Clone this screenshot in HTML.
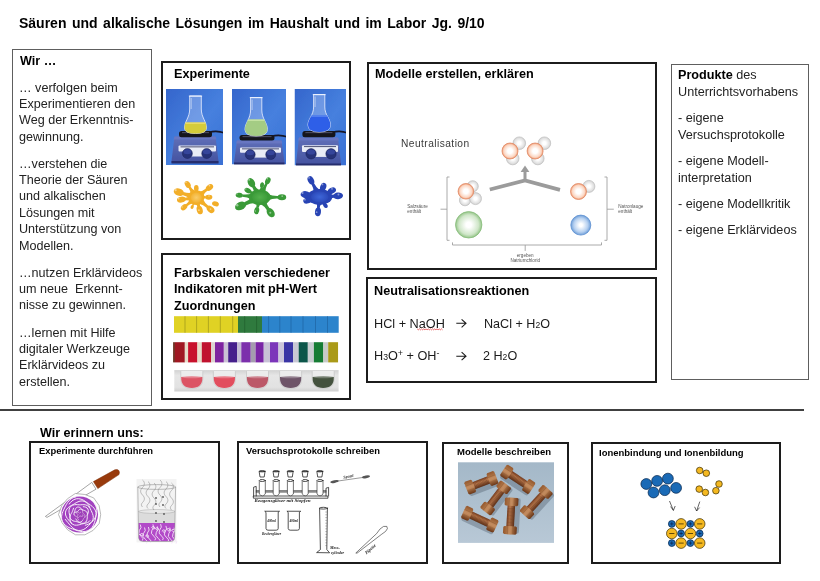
<!DOCTYPE html>
<html><head><meta charset="utf-8"><style>
html,body{margin:0;padding:0;background:#fff;}
body{width:820px;height:581px;position:relative;overflow:hidden;font-family:"Liberation Sans",sans-serif;}
.t{position:absolute;white-space:nowrap;will-change:transform;}
.box{position:absolute;box-sizing:border-box;}
.sub{font-size:0.68em;position:relative;top:0.4px;}
.sup{font-size:0.7em;position:relative;top:-3.6px;}
.sq{text-decoration:underline wavy #d02020;text-decoration-thickness:1px;text-underline-offset:2px;}
svg{position:absolute;left:0;top:0;will-change:transform;}
</style></head><body>
<div class="t" style="left:19.3px;top:15px;font-size:14px;line-height:16px;font-weight:bold;color:#000;word-spacing:1.6px;">Säuren und alkalische Lösungen im Haushalt und im Labor Jg. 9/10</div>
<div class="box" style="left:12px;top:49px;width:140px;height:357px;border:1px solid #5e5e5e;"></div>
<div class="t" style="left:19.5px;top:54px;font-size:12.6px;line-height:14px;font-weight:bold;color:#000;">Wir …</div>
<div class="t" style="left:19.4px;top:81px;font-size:12.6px;line-height:14px;color:#222;">… verfolgen beim</div>
<div class="t" style="left:19.4px;top:97px;font-size:12.6px;line-height:14px;color:#222;">Experimentieren den</div>
<div class="t" style="left:19.4px;top:113px;font-size:12.6px;line-height:14px;color:#222;">Weg der Erkenntnis-</div>
<div class="t" style="left:19.4px;top:130px;font-size:12.6px;line-height:14px;color:#222;">gewinnung.</div>
<div class="t" style="left:19.4px;top:157px;font-size:12.6px;line-height:14px;color:#222;">…verstehen die</div>
<div class="t" style="left:19.4px;top:173px;font-size:12.6px;line-height:14px;color:#222;">Theorie der Säuren</div>
<div class="t" style="left:19.4px;top:189px;font-size:12.6px;line-height:14px;color:#222;">und alkalischen</div>
<div class="t" style="left:19.4px;top:206px;font-size:12.6px;line-height:14px;color:#222;">Lösungen mit</div>
<div class="t" style="left:19.4px;top:222px;font-size:12.6px;line-height:14px;color:#222;">Unterstützung von</div>
<div class="t" style="left:19.4px;top:239px;font-size:12.6px;line-height:14px;color:#222;">Modellen.</div>
<div class="t" style="left:19.4px;top:266px;font-size:12.6px;line-height:14px;color:#222;">…nutzen Erklärvideos</div>
<div class="t" style="left:19.4px;top:282px;font-size:12.6px;line-height:14px;color:#222;">um neue&nbsp; Erkennt-</div>
<div class="t" style="left:19.4px;top:298px;font-size:12.6px;line-height:14px;color:#222;">nisse zu gewinnen.</div>
<div class="t" style="left:19.4px;top:326px;font-size:12.6px;line-height:14px;color:#222;">…lernen mit Hilfe</div>
<div class="t" style="left:19.4px;top:342px;font-size:12.6px;line-height:14px;color:#222;">digitaler Werkzeuge</div>
<div class="t" style="left:19.4px;top:358px;font-size:12.6px;line-height:14px;color:#222;">Erklärvideos zu</div>
<div class="t" style="left:19.4px;top:375px;font-size:12.6px;line-height:14px;color:#222;">erstellen.</div>
<div class="box" style="left:161px;top:61px;width:190px;height:179px;border:2px solid #1c1c1c;"></div>
<div class="t" style="left:174.3px;top:67px;font-size:12.65px;line-height:14px;font-weight:bold;color:#000;">Experimente</div>
<svg width="820" height="581" viewBox="0 0 820 581"><defs><linearGradient id="bg1" x1="0" y1="0" x2="1" y2="1"><stop offset="0" stop-color="#3566cc"/><stop offset="0.55" stop-color="#4680de"/><stop offset="1" stop-color="#3a70d4"/></linearGradient><linearGradient id="hp1" x1="0" y1="0" x2="0" y2="1"><stop offset="0" stop-color="#6070b8"/><stop offset="1" stop-color="#4452a0"/></linearGradient><clipPath id="cp1"><rect x="166" y="89" width="57" height="76"/></clipPath></defs><filter id="pb1" x="-5%" y="-5%" width="110%" height="110%"><feGaussianBlur stdDeviation="0.35"/></filter><g clip-path="url(#cp1)"><g filter="url(#pb1)"><rect x="166" y="89" width="57" height="76" fill="url(#bg1)"/><path d="M209,132.5 Q216,130 225,133" stroke="#151525" stroke-width="1.6" fill="none"/><path d="M174.5,136.5 L215.5,136.5 L218.5,161 L218.5,163 L171.5,163 L171.5,161 Z" fill="url(#hp1)"/><rect x="171.5" y="161" width="47.0" height="2.5" fill="#262e6e"/><path d="M174.5,136.5 L215.5,136.5 L216.5,139.5 L173.5,139.5 Z" fill="#6a78c4" opacity="0.8"/><rect x="178.5" y="145.5" width="37.5" height="6.0" rx="1" fill="#e8ecf6"/><path d="M187.4,153.5 L206.7,153.5" stroke="#e8ecf6" stroke-width="6.0"/><rect x="180.5" y="146.3" width="33.5" height="1.1" fill="#5a5f80"/><circle cx="187.4" cy="153.5" r="5" fill="#263278" stroke="#1a2258" stroke-width="0.5"/><ellipse cx="187.4" cy="151.75" rx="3.9000000000000004" ry="2.5" fill="#34449a"/><circle cx="206.7" cy="153.5" r="5" fill="#263278" stroke="#1a2258" stroke-width="0.5"/><ellipse cx="206.7" cy="151.75" rx="3.9000000000000004" ry="2.5" fill="#34449a"/><rect x="179" y="131" width="33" height="6.300000000000011" rx="2.5" fill="#15151f"/><rect x="182" y="132" width="27" height="1.2" fill="#4a4a5a"/><path d="M189.7,96 L189.7,109 C189.7,117.55 184.5,121.35 184.5,128 Q184.5,133.5 195.5,133.5 Q206.5,133.5 206.5,128 C206.5,121.35 201.3,117.55 201.3,109 L201.3,96 Z" fill="rgba(215,228,255,0.30)" stroke="rgba(235,240,255,0.9)" stroke-width="0.9"/><clipPath id="fl1"><path d="M189.7,96 L189.7,109 C189.7,117.55 184.5,121.35 184.5,128 Q184.5,133.5 195.5,133.5 Q206.5,133.5 206.5,128 C206.5,121.35 201.3,117.55 201.3,109 L201.3,96 Z"/></clipPath><rect clip-path="url(#fl1)" x="182.5" y="122.5" width="26" height="12.0" fill="#d4cc3a"/><rect clip-path="url(#fl1)" x="182.5" y="122.5" width="26" height="1.3" fill="#eee070"/><rect x="188.89999999999998" y="95.5" width="13.2" height="1.2" fill="rgba(240,245,255,0.85)"/><line x1="191.2" y1="98" x2="191.2" y2="109" stroke="rgba(255,255,255,0.6)" stroke-width="0.8"/></g></g><defs><linearGradient id="bg2" x1="0" y1="0" x2="1" y2="1"><stop offset="0" stop-color="#3566cc"/><stop offset="0.55" stop-color="#4680de"/><stop offset="1" stop-color="#3a70d4"/></linearGradient><linearGradient id="hp2" x1="0" y1="0" x2="0" y2="1"><stop offset="0" stop-color="#6070b8"/><stop offset="1" stop-color="#4452a0"/></linearGradient><clipPath id="cp2"><rect x="232" y="89" width="54" height="75.5"/></clipPath></defs><filter id="pb2" x="-5%" y="-5%" width="110%" height="110%"><feGaussianBlur stdDeviation="0.35"/></filter><g clip-path="url(#cp2)"><g filter="url(#pb2)"><rect x="232" y="89" width="54" height="75.5" fill="url(#bg2)"/><path d="M271.5,136.5 Q278.5,134 288,137" stroke="#151525" stroke-width="1.6" fill="none"/><path d="M237,140.5 L281.5,140.5 L284.5,162.5 L284.5,164.5 L234,164.5 L234,162.5 Z" fill="url(#hp2)"/><rect x="234" y="162.5" width="50.5" height="2.5" fill="#262e6e"/><path d="M237,140.5 L281.5,140.5 L282.5,143.5 L236,143.5 Z" fill="#6a78c4" opacity="0.8"/><rect x="240" y="147.5" width="41" height="5.300000000000011" rx="1" fill="#e8ecf6"/><path d="M250.2,154.6 L270.7,154.6" stroke="#e8ecf6" stroke-width="6.0"/><rect x="242" y="148.3" width="37" height="1.1" fill="#5a5f80"/><circle cx="250.2" cy="154.6" r="5" fill="#263278" stroke="#1a2258" stroke-width="0.5"/><ellipse cx="250.2" cy="152.85" rx="3.9000000000000004" ry="2.5" fill="#34449a"/><circle cx="270.7" cy="154.6" r="5" fill="#263278" stroke="#1a2258" stroke-width="0.5"/><ellipse cx="270.7" cy="152.85" rx="3.9000000000000004" ry="2.5" fill="#34449a"/><rect x="239.5" y="135" width="35.0" height="5.599999999999994" rx="2.5" fill="#15151f"/><rect x="242.5" y="136" width="29.0" height="1.2" fill="#4a4a5a"/><path d="M250.6,97.5 L250.6,110 C250.6,118.775 245.0,122.675 245.0,129.5 Q245.0,136 256.2,136 Q267.4,136 267.4,129.5 C267.4,122.675 261.8,118.775 261.8,110 L261.8,97.5 Z" fill="rgba(215,228,255,0.30)" stroke="rgba(235,240,255,0.9)" stroke-width="0.9"/><clipPath id="fl2"><path d="M250.6,97.5 L250.6,110 C250.6,118.775 245.0,122.675 245.0,129.5 Q245.0,136 256.2,136 Q267.4,136 267.4,129.5 C267.4,122.675 261.8,118.775 261.8,110 L261.8,97.5 Z"/></clipPath><rect clip-path="url(#fl2)" x="243.0" y="119.5" width="26.4" height="17.5" fill="#a4cc84"/><rect clip-path="url(#fl2)" x="243.0" y="119.5" width="26.4" height="1.3" fill="#cce8a8"/><rect x="249.79999999999998" y="97.0" width="12.799999999999999" height="1.2" fill="rgba(240,245,255,0.85)"/><line x1="252.1" y1="99.5" x2="252.1" y2="110" stroke="rgba(255,255,255,0.6)" stroke-width="0.8"/></g></g><defs><linearGradient id="bg3" x1="0" y1="0" x2="1" y2="1"><stop offset="0" stop-color="#3566cc"/><stop offset="0.55" stop-color="#4680de"/><stop offset="1" stop-color="#3a70d4"/></linearGradient><linearGradient id="hp3" x1="0" y1="0" x2="0" y2="1"><stop offset="0" stop-color="#6070b8"/><stop offset="1" stop-color="#4452a0"/></linearGradient><clipPath id="cp3"><rect x="294.5" y="89" width="51.5" height="76.5"/></clipPath></defs><filter id="pb3" x="-5%" y="-5%" width="110%" height="110%"><feGaussianBlur stdDeviation="0.35"/></filter><g clip-path="url(#cp3)"><g filter="url(#pb3)"><rect x="294.5" y="89" width="51.5" height="76.5" fill="url(#bg3)"/><path d="M332.4,132.5 Q339.4,130 348.0,133" stroke="#151525" stroke-width="1.6" fill="none"/><path d="M299,137.5 L338,137.5 L341,163.5 L341,165.5 L296,165.5 L296,163.5 Z" fill="url(#hp3)"/><rect x="296" y="163.5" width="45" height="2.5" fill="#262e6e"/><path d="M299,137.5 L338,137.5 L339,140.5 L298,140.5 Z" fill="#6a78c4" opacity="0.8"/><rect x="302" y="145.2" width="36" height="6.800000000000011" rx="1" fill="#e8ecf6"/><path d="M311.1,153.8 L331,153.8" stroke="#e8ecf6" stroke-width="6.24"/><rect x="304" y="146.0" width="32" height="1.1" fill="#5a5f80"/><circle cx="311.1" cy="153.8" r="5.2" fill="#263278" stroke="#1a2258" stroke-width="0.5"/><ellipse cx="311.1" cy="151.98000000000002" rx="4.056" ry="2.6" fill="#34449a"/><circle cx="331" cy="153.8" r="5.2" fill="#263278" stroke="#1a2258" stroke-width="0.5"/><ellipse cx="331" cy="151.98000000000002" rx="4.056" ry="2.6" fill="#34449a"/><rect x="302.4" y="131" width="33.0" height="6.199999999999989" rx="2.5" fill="#15151f"/><rect x="305.4" y="132" width="27.0" height="1.2" fill="#4a4a5a"/><path d="M313.59999999999997,94.5 L313.59999999999997,107 C313.59999999999997,115.1 308.0,118.7 308.0,125 Q308.0,132 319.2,132 Q330.4,132 330.4,125 C330.4,118.7 324.8,115.1 324.8,107 L324.8,94.5 Z" fill="rgba(215,228,255,0.30)" stroke="rgba(235,240,255,0.9)" stroke-width="0.9"/><clipPath id="fl3"><path d="M313.59999999999997,94.5 L313.59999999999997,107 C313.59999999999997,115.1 308.0,118.7 308.0,125 Q308.0,132 319.2,132 Q330.4,132 330.4,125 C330.4,118.7 324.8,115.1 324.8,107 L324.8,94.5 Z"/></clipPath><rect clip-path="url(#fl3)" x="306.0" y="115.5" width="26.4" height="17.5" fill="#2e5ee8"/><rect clip-path="url(#fl3)" x="306.0" y="115.5" width="26.4" height="1.3" fill="#5a88f0"/><rect x="312.79999999999995" y="94.0" width="12.799999999999999" height="1.2" fill="rgba(240,245,255,0.85)"/><line x1="315.09999999999997" y1="96.5" x2="315.09999999999997" y2="107" stroke="rgba(255,255,255,0.6)" stroke-width="0.8"/></g></g><defs><radialGradient id="sg1" cx="0.5" cy="0.5" r="0.6"><stop offset="0" stop-color="#f9cc6a"/><stop offset="1" stop-color="#f2ae28"/></radialGradient></defs><g fill="#f2ae28"><ellipse cx="187.71" cy="184.49" rx="3.77" ry="2.60" transform="rotate(-123.2 187.71 184.49)"/><path d="M196.03,191.45 Q192.19,189.62 190.40,186.46 L188.44,187.74 Q190.63,190.65 190.77,194.89 Z"/><ellipse cx="196.30" cy="188.35" rx="3.33" ry="2.30" transform="rotate(-90.0 196.30 188.35)"/><path d="M199.17,192.42 Q197.13,191.76 197.34,191.11 L195.27,191.11 Q195.47,191.76 193.43,192.42 Z"/><ellipse cx="209.49" cy="187.55" rx="4.06" ry="2.80" transform="rotate(-37.3 209.49 187.55)"/><path d="M202.56,196.85 Q204.33,192.75 207.58,190.59 L206.05,188.58 Q203.11,191.14 198.68,191.76 Z"/><ellipse cx="178.82" cy="192.14" rx="5.22" ry="3.60" transform="rotate(-162.6 178.82 192.14)"/><path d="M191.95,192.89 Q187.35,193.45 183.42,191.88 L182.46,194.97 Q186.58,195.92 190.04,199.00 Z"/><ellipse cx="181.29" cy="199.60" rx="4.35" ry="3.00" transform="rotate(172.4 181.29 199.60)"/><path d="M190.33,195.17 Q187.66,197.66 184.68,197.79 L185.03,200.46 Q187.95,199.80 191.18,201.51 Z"/><ellipse cx="208.75" cy="197.15" rx="3.62" ry="2.50" transform="rotate(-2.1 208.75 197.15)"/><path d="M202.01,200.44 Q203.86,198.22 205.79,198.38 L205.71,196.13 Q203.79,196.43 201.78,194.35 Z"/><ellipse cx="215.46" cy="203.83" rx="3.48" ry="2.40" transform="rotate(18.0 215.46 203.83)"/><ellipse cx="184.08" cy="207.23" rx="3.62" ry="2.50" transform="rotate(141.8 184.08 207.23)"/><path d="M190.15,198.56 Q188.68,202.46 185.74,204.49 L187.13,206.25 Q189.79,203.87 193.92,203.35 Z"/><ellipse cx="199.70" cy="209.95" rx="4.35" ry="3.00" transform="rotate(74.6 199.70 209.95)"/><path d="M194.60,203.47 Q197.17,204.84 197.44,206.84 L200.05,206.12 Q199.26,204.26 200.77,201.77 Z"/><ellipse cx="210.54" cy="209.35" rx="4.35" ry="3.00" transform="rotate(39.5 210.54 209.35)"/><path d="M198.44,203.52 Q203.44,204.88 206.91,208.10 L208.62,206.01 Q204.81,203.22 202.52,198.58 Z"/><ellipse cx="192.20" cy="206.81" rx="2.17" ry="1.50" transform="rotate(114.0 192.20 206.81)"/><path d="M192.21,201.52 Q193.06,203.56 192.32,204.90 L193.55,205.44 Q194.05,204.00 196.14,203.26 Z"/><ellipse cx="196.3" cy="197.6" rx="8" ry="7.4"/></g><ellipse cx="196.3" cy="197.6" rx="5.6" ry="5.18" fill="url(#sg1)"/><circle cx="185.96" cy="182.36" r="0.78" fill="#ffffff" opacity="0.45"/><circle cx="209.48" cy="185.58" r="0.84" fill="#ffffff" opacity="0.45"/><circle cx="175.66" cy="190.16" r="1.08" fill="#ffffff" opacity="0.45"/><circle cx="178.60" cy="198.60" r="0.90" fill="#ffffff" opacity="0.45"/><circle cx="209.00" cy="196.10" r="0.75" fill="#ffffff" opacity="0.45"/><circle cx="182.10" cy="207.00" r="0.75" fill="#ffffff" opacity="0.45"/><circle cx="198.90" cy="210.20" r="0.90" fill="#ffffff" opacity="0.45"/><circle cx="210.50" cy="209.10" r="0.90" fill="#ffffff" opacity="0.45"/><defs><radialGradient id="sg2" cx="0.5" cy="0.5" r="0.6"><stop offset="0" stop-color="#52b04c"/><stop offset="1" stop-color="#3a9a38"/></radialGradient></defs><g fill="#3a9a38"><ellipse cx="251.35" cy="182.67" rx="4.93" ry="3.40" transform="rotate(-120.2 251.35 182.67)"/><path d="M259.63,190.54 Q256.19,188.56 254.73,185.43 L252.08,186.97 Q254.08,189.79 254.10,193.76 Z"/><ellipse cx="262.02" cy="185.08" rx="2.90" ry="2.00" transform="rotate(-79.6 262.02 185.08)"/><path d="M263.35,192.25 Q261.90,189.74 262.47,187.61 L260.70,187.28 Q260.48,189.49 258.23,191.32 Z"/><ellipse cx="267.85" cy="180.82" rx="3.62" ry="2.50" transform="rotate(-63.8 267.85 180.82)"/><path d="M265.07,193.39 Q265.24,188.18 267.54,184.01 L265.52,183.02 Q263.62,187.38 259.60,190.70 Z"/><ellipse cx="239.24" cy="195.22" rx="3.62" ry="2.50" transform="rotate(-174.5 239.24 195.22)"/><path d="M252.46,193.43 Q247.29,195.09 242.34,194.39 L242.12,196.63 Q247.11,196.88 251.88,199.50 Z"/><ellipse cx="240.62" cy="205.97" rx="5.80" ry="4.00" transform="rotate(155.4 240.62 205.97)"/><path d="M252.00,197.25 Q248.56,200.76 244.24,202.34 L245.73,205.61 Q249.76,203.38 254.66,203.07 Z"/><ellipse cx="281.90" cy="197.29" rx="4.35" ry="3.00" transform="rotate(0.2 281.90 197.29)"/><path d="M267.49,200.43 Q272.90,198.34 278.29,198.63 L278.31,195.93 Q272.90,196.18 267.51,194.03 Z"/><ellipse cx="256.68" cy="210.68" rx="3.62" ry="2.50" transform="rotate(103.0 256.68 210.68)"/><path d="M255.58,201.90 Q257.08,204.97 256.26,207.51 L258.45,208.01 Q258.83,205.38 261.53,203.28 Z"/><ellipse cx="270.69" cy="212.67" rx="5.08" ry="3.50" transform="rotate(54.8 270.69 212.67)"/><path d="M260.62,203.93 Q264.73,206.39 266.99,210.14 L269.56,208.33 Q266.79,204.93 265.86,200.24 Z"/><ellipse cx="247.89" cy="190.61" rx="3.62" ry="2.50" transform="rotate(-151.0 247.89 190.61)"/><path d="M255.21,191.17 Q252.56,192.16 251.06,191.07 L249.97,193.04 Q251.69,193.74 252.25,196.51 Z"/><ellipse cx="259.8" cy="197.2" rx="11" ry="7.8"/></g><ellipse cx="259.8" cy="197.2" rx="7.699999999999999" ry="5.46" fill="url(#sg2)"/><circle cx="249.14" cy="179.84" r="1.02" fill="#ffffff" opacity="0.45"/><circle cx="267.40" cy="178.70" r="0.75" fill="#ffffff" opacity="0.45"/><circle cx="237.00" cy="194.10" r="0.75" fill="#ffffff" opacity="0.45"/><circle cx="237.20" cy="205.20" r="1.20" fill="#ffffff" opacity="0.45"/><circle cx="282.20" cy="196.10" r="0.90" fill="#ffffff" opacity="0.45"/><circle cx="255.40" cy="210.90" r="0.75" fill="#ffffff" opacity="0.45"/><circle cx="270.30" cy="212.70" r="1.05" fill="#ffffff" opacity="0.45"/><circle cx="245.80" cy="189.00" r="0.75" fill="#ffffff" opacity="0.45"/><defs><radialGradient id="sg3" cx="0.5" cy="0.5" r="0.6"><stop offset="0" stop-color="#3e66d8"/><stop offset="1" stop-color="#2844b4"/></radialGradient></defs><g fill="#2844b4"><ellipse cx="310.90" cy="180.32" rx="4.35" ry="3.00" transform="rotate(-118.0 310.90 180.32)"/><path d="M319.71,190.10 Q315.69,187.04 313.78,182.87 L311.40,184.14 Q313.78,188.06 314.06,193.10 Z"/><ellipse cx="323.20" cy="187.01" rx="4.35" ry="3.00" transform="rotate(-70.5 323.20 187.01)"/><path d="M324.65,192.51 Q322.83,191.28 323.27,190.86 L320.73,189.96 Q320.80,190.56 318.62,190.37 Z"/><ellipse cx="331.86" cy="190.68" rx="4.35" ry="3.00" transform="rotate(-27.1 331.86 190.68)"/><path d="M327.99,196.25 Q328.09,193.82 329.27,193.52 L328.04,191.12 Q327.11,191.90 325.08,190.56 Z"/><ellipse cx="338.10" cy="195.89" rx="4.93" ry="3.40" transform="rotate(-3.1 338.10 195.89)"/><path d="M328.59,199.62 Q331.29,197.49 334.11,197.64 L333.95,194.59 Q331.16,195.05 328.24,193.23 Z"/><ellipse cx="305.63" cy="194.67" rx="5.08" ry="3.50" transform="rotate(-171.0 305.63 194.67)"/><path d="M311.71,192.40 Q310.69,194.20 310.02,193.77 L309.53,196.89 Q310.29,196.69 310.71,198.72 Z"/><ellipse cx="307.54" cy="200.48" rx="4.35" ry="3.00" transform="rotate(163.6 307.54 200.48)"/><path d="M310.85,196.17 Q311.07,198.31 310.61,198.17 L311.37,200.76 Q311.68,200.39 312.65,202.31 Z"/><ellipse cx="317.97" cy="211.91" rx="4.35" ry="3.00" transform="rotate(96.6 317.97 211.91)"/><path d="M315.88,202.12 Q317.65,205.29 317.04,208.18 L319.72,208.49 Q319.79,205.53 322.24,202.85 Z"/><ellipse cx="325.34" cy="205.27" rx="2.90" ry="2.00" transform="rotate(56.0 325.34 205.27)"/><path d="M321.01,203.50 Q322.99,203.06 323.25,203.78 L324.75,202.78 Q324.18,202.26 325.32,200.59 Z"/><ellipse cx="319.7" cy="196.9" rx="12.5" ry="8"/></g><ellipse cx="319.7" cy="196.9" rx="8.75" ry="5.6" fill="url(#sg3)"/><circle cx="309.00" cy="177.80" r="0.90" fill="#ffffff" opacity="0.45"/><circle cx="322.50" cy="184.40" r="0.90" fill="#ffffff" opacity="0.45"/><circle cx="332.00" cy="188.80" r="0.90" fill="#ffffff" opacity="0.45"/><circle cx="338.44" cy="194.44" r="1.02" fill="#ffffff" opacity="0.45"/><circle cx="302.50" cy="193.00" r="1.05" fill="#ffffff" opacity="0.45"/><circle cx="304.90" cy="199.70" r="0.90" fill="#ffffff" opacity="0.45"/><circle cx="316.60" cy="212.20" r="0.90" fill="#ffffff" opacity="0.45"/></svg>
<div class="box" style="left:161px;top:253px;width:190px;height:147px;border:2px solid #1c1c1c;"></div>
<div class="t" style="left:174.3px;top:266px;font-size:12.65px;line-height:14px;font-weight:bold;color:#000;">Farbskalen verschiedener</div>
<div class="t" style="left:174.3px;top:282px;font-size:12.65px;line-height:14px;font-weight:bold;color:#000;">Indikatoren mit pH-Wert</div>
<div class="t" style="left:174.3px;top:299px;font-size:12.65px;line-height:14px;font-weight:bold;color:#000;">Zuordnungen</div>
<svg width="820" height="581" viewBox="0 0 820 581"><rect x="174" y="316.2" width="64" height="16.600000000000023" fill="#e0d224"/><rect x="238" y="316.2" width="24" height="16.600000000000023" fill="#2f7a3e"/><rect x="262" y="316.2" width="76.7" height="16.600000000000023" fill="#2c84cc"/><line x1="185" y1="316.2" x2="185" y2="332.8" stroke="#8f8a1a" stroke-width="0.6"/><line x1="196.6" y1="316.2" x2="196.6" y2="332.8" stroke="#8f8a1a" stroke-width="0.6"/><line x1="208.4" y1="316.2" x2="208.4" y2="332.8" stroke="#8f8a1a" stroke-width="0.6"/><line x1="220.3" y1="316.2" x2="220.3" y2="332.8" stroke="#8f8a1a" stroke-width="0.6"/><line x1="232.7" y1="316.2" x2="232.7" y2="332.8" stroke="#8f8a1a" stroke-width="0.6"/><line x1="244.7" y1="316.2" x2="244.7" y2="332.8" stroke="#1f5a2a" stroke-width="0.6"/><line x1="256.6" y1="316.2" x2="256.6" y2="332.8" stroke="#1f5a2a" stroke-width="0.6"/><line x1="268.6" y1="316.2" x2="268.6" y2="332.8" stroke="#1d5e9a" stroke-width="0.6"/><line x1="279.8" y1="316.2" x2="279.8" y2="332.8" stroke="#1d5e9a" stroke-width="0.6"/><line x1="291" y1="316.2" x2="291" y2="332.8" stroke="#1d5e9a" stroke-width="0.6"/><line x1="303" y1="316.2" x2="303" y2="332.8" stroke="#1d5e9a" stroke-width="0.6"/><line x1="315.5" y1="316.2" x2="315.5" y2="332.8" stroke="#1d5e9a" stroke-width="0.6"/><line x1="327.5" y1="316.2" x2="327.5" y2="332.8" stroke="#1d5e9a" stroke-width="0.6"/><rect x="173.1" y="342.2" width="1.85" height="20.20" fill="#6a3020"/><rect x="174.9" y="342.2" width="9.95" height="20.20" fill="#a01822"/><rect x="184.8" y="342.2" width="3.35" height="20.20" fill="#e6dcc8"/><rect x="188.1" y="342.2" width="9.35" height="20.20" fill="#c8122c"/><rect x="197.4" y="342.2" width="4.45" height="20.20" fill="#e6dcc8"/><rect x="201.8" y="342.2" width="9.45" height="20.20" fill="#c0122e"/><rect x="211.2" y="342.2" width="3.85" height="20.20" fill="#dcd4d0"/><rect x="215" y="342.2" width="8.85" height="20.20" fill="#7e24a0"/><rect x="223.8" y="342.2" width="4.45" height="20.20" fill="#cac2d4"/><rect x="228.2" y="342.2" width="8.85" height="20.20" fill="#46208c"/><rect x="237" y="342.2" width="4.35" height="20.20" fill="#c4bcd4"/><rect x="241.3" y="342.2" width="9.45" height="20.20" fill="#7c30ac"/><rect x="250.7" y="342.2" width="4.95" height="20.20" fill="#a49cae"/><rect x="255.6" y="342.2" width="8.15" height="20.20" fill="#7a26a6"/><rect x="263.7" y="342.2" width="6.35" height="20.20" fill="#c8c2d6"/><rect x="270" y="342.2" width="8.45" height="20.20" fill="#7c36ba"/><rect x="278.4" y="342.2" width="5.65" height="20.20" fill="#ccc6da"/><rect x="284" y="342.2" width="9.15" height="20.20" fill="#3a34a4"/><rect x="293.1" y="342.2" width="5.65" height="20.20" fill="#c8c8d4"/><rect x="298.7" y="342.2" width="9.15" height="20.20" fill="#0c564a"/><rect x="307.8" y="342.2" width="6.15" height="20.20" fill="#c8ccd0"/><rect x="313.9" y="342.2" width="9.45" height="20.20" fill="#167c34"/><rect x="323.3" y="342.2" width="4.95" height="20.20" fill="#c8cac8"/><rect x="328.2" y="342.2" width="9.85" height="20.20" fill="#aa9a18"/><defs><linearGradient id="s3g" x1="0" y1="0" x2="0" y2="1"><stop offset="0" stop-color="#d2d2d2"/><stop offset="0.25" stop-color="#e6e6e6"/><stop offset="0.8" stop-color="#e2e2e2"/><stop offset="1" stop-color="#cfcfcf"/></linearGradient></defs><rect x="174.3" y="370.1" width="164.3" height="21.4" fill="url(#s3g)"/><path d="M180.8,371.1 L180.8,379.1 Q180.8,388.6 191.8,388.6 Q202.8,388.6 202.8,379.1 L202.8,371.1" fill="#ececec" stroke="#c4c4c4" stroke-width="0.7"/><path d="M181.20000000000002,376.90000000000003 Q180.8,387.90000000000003 191.8,387.90000000000003 Q202.8,387.90000000000003 202.4,376.90000000000003 Q191.8,375.70000000000005 181.20000000000002,376.90000000000003 Z" fill="#dc5464"/><ellipse cx="191.8" cy="377.1" rx="10" ry="1.2" fill="#ffffff" opacity="0.25"/><path d="M213.4,371.1 L213.4,379.1 Q213.4,388.6 224.4,388.6 Q235.4,388.6 235.4,379.1 L235.4,371.1" fill="#ececec" stroke="#c4c4c4" stroke-width="0.7"/><path d="M213.8,376.90000000000003 Q213.4,387.90000000000003 224.4,387.90000000000003 Q235.4,387.90000000000003 235.0,376.90000000000003 Q224.4,375.70000000000005 213.8,376.90000000000003 Z" fill="#e24e5e"/><ellipse cx="224.4" cy="377.1" rx="10" ry="1.2" fill="#ffffff" opacity="0.25"/><path d="M246.5,371.1 L246.5,379.1 Q246.5,388.6 257.5,388.6 Q268.5,388.6 268.5,379.1 L268.5,371.1" fill="#ececec" stroke="#c4c4c4" stroke-width="0.7"/><path d="M246.9,376.90000000000003 Q246.5,387.90000000000003 257.5,387.90000000000003 Q268.5,387.90000000000003 268.1,376.90000000000003 Q257.5,375.70000000000005 246.9,376.90000000000003 Z" fill="#bc5868"/><ellipse cx="257.5" cy="377.1" rx="10" ry="1.2" fill="#ffffff" opacity="0.25"/><path d="M279.6,371.1 L279.6,379.1 Q279.6,388.6 290.6,388.6 Q301.6,388.6 301.6,379.1 L301.6,371.1" fill="#ececec" stroke="#c4c4c4" stroke-width="0.7"/><path d="M280.0,376.90000000000003 Q279.6,387.90000000000003 290.6,387.90000000000003 Q301.6,387.90000000000003 301.20000000000005,376.90000000000003 Q290.6,375.70000000000005 280.0,376.90000000000003 Z" fill="#6e5468"/><ellipse cx="290.6" cy="377.1" rx="10" ry="1.2" fill="#ffffff" opacity="0.25"/><path d="M312.2,371.1 L312.2,379.1 Q312.2,388.6 323.2,388.6 Q334.2,388.6 334.2,379.1 L334.2,371.1" fill="#ececec" stroke="#c4c4c4" stroke-width="0.7"/><path d="M312.59999999999997,376.90000000000003 Q312.2,387.90000000000003 323.2,387.90000000000003 Q334.2,387.90000000000003 333.8,376.90000000000003 Q323.2,375.70000000000005 312.59999999999997,376.90000000000003 Z" fill="#44523e"/><ellipse cx="323.2" cy="377.1" rx="10" ry="1.2" fill="#ffffff" opacity="0.25"/></svg>
<div class="box" style="left:367px;top:62px;width:290px;height:208px;border:2px solid #1c1c1c;"></div>
<div class="t" style="left:375px;top:67px;font-size:12.65px;line-height:14px;font-weight:bold;color:#000;">Modelle erstellen, erklären</div>
<svg width="820" height="581" viewBox="0 0 820 581"><defs><radialGradient id="ox" cx="0.5" cy="0.5" r="0.5"><stop offset="0.3" stop-color="#ffffff"/><stop offset="0.78" stop-color="#fbd6c2"/><stop offset="0.93" stop-color="#f4aa88"/><stop offset="1" stop-color="#ea9068"/></radialGradient><radialGradient id="hy" cx="0.5" cy="0.5" r="0.5"><stop offset="0.25" stop-color="#ffffff"/><stop offset="0.8" stop-color="#e0e0e0"/><stop offset="1" stop-color="#cbcbcb"/></radialGradient><radialGradient id="cl" cx="0.5" cy="0.5" r="0.5"><stop offset="0.2" stop-color="#ffffff"/><stop offset="0.75" stop-color="#cfe6c8"/><stop offset="1" stop-color="#94c488"/></radialGradient><radialGradient id="na" cx="0.5" cy="0.5" r="0.5"><stop offset="0.15" stop-color="#ffffff"/><stop offset="0.7" stop-color="#b6d0f0"/><stop offset="1" stop-color="#6e9ed8"/></radialGradient></defs><text x="401" y="146.5" font-family="Liberation Sans" font-size="10.2" letter-spacing="0.45" fill="#3a3a3a">Neutralisation</text><circle cx="519.3" cy="143.2" r="6.3" fill="url(#hy)" stroke="#c4c4c4" stroke-width="0.8"/><circle cx="512.7" cy="158.5" r="6.3" fill="url(#hy)" stroke="#c4c4c4" stroke-width="0.8"/><circle cx="510" cy="151" r="8" fill="url(#ox)" stroke="#e08a66" stroke-width="0.8"/><circle cx="544.4" cy="143.2" r="6.3" fill="url(#hy)" stroke="#c4c4c4" stroke-width="0.8"/><circle cx="537.8000000000001" cy="158.5" r="6.3" fill="url(#hy)" stroke="#c4c4c4" stroke-width="0.8"/><circle cx="535.1" cy="151" r="8" fill="url(#ox)" stroke="#e08a66" stroke-width="0.8"/><path d="M489.8,189.5 L525,180.5 L560,189.8" stroke="#9b9b9b" stroke-width="3.8" fill="none" stroke-linejoin="miter"/><line x1="525" y1="181" x2="525" y2="170.5" stroke="#9b9b9b" stroke-width="3"/><path d="M520.6,172 L525,165.6 L529.4,172 Z" fill="#9b9b9b"/><circle cx="472.7" cy="186.3" r="5.6" fill="url(#hy)" stroke="#c4c4c4" stroke-width="0.8"/><circle cx="465" cy="200.2" r="5.6" fill="url(#hy)" stroke="#c4c4c4" stroke-width="0.8"/><circle cx="475.5" cy="198.6" r="6" fill="url(#hy)" stroke="#c4c4c4" stroke-width="0.8"/><circle cx="465.9" cy="191.3" r="7.8" fill="url(#ox)" stroke="#e08a66" stroke-width="0.8"/><circle cx="468.7" cy="224.8" r="13.2" fill="url(#cl)" stroke="#86bc7a" stroke-width="0.8"/><circle cx="588.9" cy="186.4" r="6" fill="url(#hy)" stroke="#c4c4c4" stroke-width="0.8"/><circle cx="578.5" cy="191.5" r="8" fill="url(#ox)" stroke="#e08a66" stroke-width="0.8"/><circle cx="580.8" cy="225.1" r="10" fill="url(#na)" stroke="#5a8ed0" stroke-width="0.8"/><path d="M449.5,177 L447,177 L447,240.3 L449.5,240.3" stroke="#a0a0a0" stroke-width="0.9" fill="none"/><line x1="440.5" y1="209.2" x2="447" y2="209.2" stroke="#a0a0a0" stroke-width="0.9"/><path d="M604.5,177 L607,177 L607,240.3 L604.5,240.3" stroke="#a0a0a0" stroke-width="0.9" fill="none"/><line x1="607" y1="209.2" x2="613.8" y2="209.2" stroke="#a0a0a0" stroke-width="0.9"/><path d="M452.5,242.4 L452.5,245 L601.5,245 L601.5,242.4" stroke="#a0a0a0" stroke-width="0.9" fill="none"/><line x1="525.2" y1="245" x2="525.2" y2="250.9" stroke="#a0a0a0" stroke-width="0.9"/><text x="407.3" y="207.8" font-family="Liberation Sans" font-size="4.6" fill="#555">Salzsäure</text><text x="407.3" y="213.2" font-family="Liberation Sans" font-size="4.6" fill="#555">enthält</text><text x="618.3" y="207.8" font-family="Liberation Sans" font-size="4.6" fill="#555">Natronlauge</text><text x="618.3" y="213.2" font-family="Liberation Sans" font-size="4.6" fill="#555">enthält</text><text x="525.2" y="256.8" text-anchor="middle" font-family="Liberation Sans" font-size="4.6" fill="#555">ergeben</text><text x="525.2" y="262" text-anchor="middle" font-family="Liberation Sans" font-size="4.6" fill="#555">Natriumchlorid</text></svg>
<div class="box" style="left:366px;top:277px;width:291px;height:106px;border:2px solid #1c1c1c;"></div>
<div class="t" style="left:373.6px;top:284px;font-size:12.65px;line-height:14px;font-weight:bold;color:#000;">Neutralisationsreaktionen</div>
<div class="t" style="left:373.6px;top:317px;font-size:12.7px;line-height:14px;color:#1a1a1a;">HCl + NaOH</div>
<div class="t" style="left:483.8px;top:317px;font-size:12.6px;line-height:14px;color:#1a1a1a;">NaCl + H<span class="sub">2</span>O</div>
<div class="t" style="left:373.6px;top:349px;font-size:12.7px;line-height:14px;color:#1a1a1a;">H<span class="sub">3</span>O<span class="sup">+</span> + OH<span class="sup">-</span></div>
<div class="t" style="left:483.4px;top:349px;font-size:12.6px;line-height:14px;color:#1a1a1a;">2 H<span class="sub">2</span>O</div>
<svg width="820" height="581" viewBox="0 0 820 581"><polyline points="417.20,328.85 418.30,329.85 419.40,328.85 420.50,329.85 421.60,328.85 422.70,329.85 423.80,328.85 424.90,329.85 426.00,328.85 427.10,329.85 428.20,328.85 429.30,329.85 430.40,328.85 431.50,329.85 432.60,328.85 433.70,329.85 434.80,328.85 435.90,329.85 437.00,328.85 438.10,329.85 439.20,328.85 440.30,329.85 441.40,328.85 442.50,329.85" fill="none" stroke="#e02828" stroke-width="0.7"/><path d="M456.3,323.3 L466,323.3 M461.6,319.3 L466,323.3 L461.6,327.3" stroke="#1a1a1a" stroke-width="1.1" fill="none"/><path d="M456.3,356.2 L466,356.2 M461.6,352.2 L466,356.2 L461.6,360.2" stroke="#1a1a1a" stroke-width="1.1" fill="none"/></svg>
<div class="box" style="left:671px;top:64px;width:138px;height:316px;border:1px solid #5e5e5e;"></div>
<div class="t" style="left:678px;top:68px;font-size:12.65px;line-height:14px;color:#222;"><b style="color:#000">Produkte</b> des</div>
<div class="t" style="left:678px;top:85px;font-size:12.65px;line-height:14px;color:#222;">Unterrichtsvorhabens</div>
<div class="t" style="left:678px;top:111px;font-size:12.65px;line-height:14px;color:#222;">- eigene</div>
<div class="t" style="left:678px;top:128px;font-size:12.65px;line-height:14px;color:#222;">Versuchsprotokolle</div>
<div class="t" style="left:678px;top:154px;font-size:12.65px;line-height:14px;color:#222;">- eigene Modell-</div>
<div class="t" style="left:678px;top:171px;font-size:12.65px;line-height:14px;color:#222;">interpretation</div>
<div class="t" style="left:678px;top:197px;font-size:12.65px;line-height:14px;color:#222;">- eigene Modellkritik</div>
<div class="t" style="left:678px;top:223px;font-size:12.65px;line-height:14px;color:#222;">- eigene Erklärvideos</div>
<div style="position:absolute;left:0;top:408.5px;width:804px;height:2px;background:#404040"></div>
<div class="t" style="left:40.2px;top:426px;font-size:12.55px;line-height:14px;font-weight:bold;color:#000;">Wir erinnern uns:</div>
<div class="box" style="left:29px;top:441px;width:191px;height:123px;border:2px solid #1c1c1c;"></div>
<div class="t" style="left:39.3px;top:446px;font-size:9.38px;line-height:10px;font-weight:bold;color:#000;">Experimente durchführen</div>
<div class="box" style="left:237px;top:441px;width:191px;height:123px;border:2px solid #1c1c1c;"></div>
<div class="t" style="left:246.2px;top:445px;font-size:9.4px;line-height:11px;font-weight:bold;color:#000;">Versuchsprotokolle schreiben</div>
<div class="box" style="left:442px;top:442px;width:127px;height:122px;border:2px solid #1c1c1c;"></div>
<div class="t" style="left:457.4px;top:446px;font-size:9.5px;line-height:11px;font-weight:bold;color:#000;">Modelle beschreiben</div>
<div class="box" style="left:591px;top:442px;width:190px;height:122px;border:2px solid #1c1c1c;"></div>
<div class="t" style="left:599.4px;top:447px;font-size:9.47px;line-height:11px;font-weight:bold;color:#000;">Ionenbindung und Ionenbildung</div>
<svg width="820" height="581" viewBox="0 0 820 581"><path d="M91.8,482.4 L96,489.2 L72,503 L47,517.4 L45.4,516.4 L69,499.2 Z" fill="#fff" stroke="#6a6a6a" stroke-width="0.6"/><path d="M100.7,514.5 L99.2,523.5 L93.1,530.4 L84.9,534.8 L75.5,534.8 L67.7,529.9 L62.2,523.0 L58.5,514.5 L61.7,505.8 L67.4,498.8 L75.3,493.5 L84.9,494.5 L93.7,497.9 L99.1,505.6 Z" fill="#fff" stroke="#8a8a8a" stroke-width="0.6"/><ellipse cx="79.60000000000001" cy="514.5" rx="18.4" ry="18" fill="#a242c0"/><path d="M82.1,514.5 L82.6,514.9 L82.9,515.5 L82.8,516.0 L82.4,516.3 L81.8,516.4 L81.1,516.3 L80.5,516.0 L80.1,515.8 L79.9,515.8 L79.8,516.2 L79.5,516.7 L79.0,517.2 L78.4,517.5 L77.9,517.5 L77.5,517.2 L77.3,516.6 L77.5,516.0 L77.8,515.4 L78.1,515.0 L78.2,514.7 L78.0,514.5 L77.6,514.3 L77.1,513.8 L76.7,513.3 L76.6,512.7 L76.9,512.2 L77.4,512.0 L78.1,512.2 L78.7,512.5 L79.2,512.9 L79.4,513.1 L79.7,513.1 L79.9,512.8 L80.4,512.4 L81.0,512.0 M78.9,519.9 L78.2,519.4 L77.7,518.6 L77.4,517.9 L77.2,517.2 L76.9,516.7 L76.4,516.4 L75.7,516.1 L75.0,515.7 L74.3,515.0 L73.9,514.3 L74.0,513.4 L74.5,512.7 L75.2,512.3 L76.1,512.0 L76.9,511.9 L77.5,511.7 L77.9,511.4 L78.3,510.9 L78.7,510.2 L79.4,509.5 L80.2,509.1 L81.0,509.1 L81.8,509.5 L82.3,510.2 L82.6,511.1 L82.6,511.9 L82.7,512.6 L82.8,513.1 L83.2,513.5 L83.8,514.0 L84.5,514.6 L84.9,515.4 L85.0,516.2 L84.7,517.0 L84.0,517.5 M73.8,513.0 L74.4,512.3 L74.7,511.5 L74.9,510.6 L75.2,509.6 L75.7,508.5 L76.4,507.7 L77.5,507.1 L78.6,507.1 L79.8,507.4 L80.7,508.1 L81.5,508.8 L82.2,509.5 L82.9,510.0 L83.7,510.3 L84.7,510.7 L85.8,511.2 L86.7,511.9 L87.3,512.9 L87.4,514.0 L87.1,515.1 L86.4,516.1 L85.5,516.8 L84.7,517.4 L84.0,518.0 L83.5,518.6 L83.1,519.5 L82.5,520.4 L81.8,521.3 L80.8,522.0 L79.6,522.2 L78.5,521.9 L77.5,521.2 L76.8,520.3 L76.2,519.4 L75.7,518.6 M82.9,506.7 L84.3,506.8 L85.8,507.2 L87.0,508.0 L87.9,509.1 L88.3,510.5 L88.3,512.0 L88.0,513.3 L87.6,514.5 L87.4,515.7 L87.2,516.8 L87.2,518.0 L87.0,519.4 L86.6,520.8 L85.8,522.0 L84.7,522.9 L83.2,523.3 L81.7,523.3 L80.3,522.9 L79.1,522.4 L77.9,522.0 L76.8,521.7 L75.6,521.4 L74.3,521.2 L72.9,520.8 L71.6,520.0 L70.6,518.9 L70.2,517.5 L70.2,516.1 L70.6,514.7 L71.3,513.5 L71.9,512.4 L72.4,511.4 L72.8,510.3 L73.2,509.1 L73.7,507.8 M90.2,520.3 L89.0,521.7 L87.5,522.6 L85.8,523.1 L84.2,523.5 L82.7,523.8 L81.2,524.1 L79.8,524.6 L78.2,525.0 L76.4,525.2 L74.6,525.1 L72.9,524.4 L71.6,523.3 L70.6,521.8 L70.1,520.1 L69.9,518.5 L69.8,516.9 L69.6,515.5 L69.4,514.0 L69.1,512.5 L69.0,510.8 L69.2,509.1 L69.9,507.5 L71.0,506.1 L72.6,505.2 L74.3,504.8 L76.0,504.6 L77.7,504.7 L79.2,504.8 L80.7,504.8 L82.2,504.7 L83.9,504.7 L85.7,504.9 L87.4,505.6 L88.8,506.7 L89.7,508.2 M72.0,524.3 L70.9,522.8 L69.8,521.4 L68.6,520.0 L67.4,518.6 L66.4,516.9 L65.6,515.0 L65.4,512.9 L65.8,510.9 L66.8,509.1 L68.2,507.6 L69.8,506.4 L71.5,505.4 L73.1,504.6 L74.6,503.6 L76.2,502.7 L78.0,501.8 L80.0,501.1 L82.1,500.9 L84.2,501.3 L86.0,502.3 L87.6,503.7 L88.7,505.3 L89.6,507.1 L90.3,508.8 L91.0,510.4 L91.8,512.0 L92.5,513.7 L93.1,515.6 L93.3,517.7 L92.9,519.7 L91.9,521.5 L90.4,523.0 L88.6,524.1 L86.8,524.8 L84.9,525.3 M69.0,504.4 L70.3,502.6 L72.0,500.9 L74.0,499.6 L76.3,498.8 L78.7,498.7 L81.1,499.2 L83.3,500.1 L85.2,501.3 L87.0,502.6 L88.7,503.8 L90.4,505.0 L92.2,506.4 L93.8,508.0 L95.2,510.0 L95.9,512.3 L96.0,514.6 L95.5,516.9 L94.4,519.0 L93.0,520.8 L91.5,522.4 L90.1,523.9 L88.6,525.5 L87.1,527.0 L85.3,528.5 L83.2,529.7 L80.9,530.4 L78.5,530.5 L76.1,529.9 L74.0,528.8 L72.2,527.3 L70.6,525.7 L69.2,524.1 L67.9,522.5 L66.5,520.9 L65.1,519.1 M94.3,503.3 L95.7,505.6 L96.6,508.1 L96.8,510.7 L96.6,513.3 L96.2,515.7 L95.6,518.0 L95.1,520.4 L94.4,522.7 L93.5,525.1 L92.1,527.4 L90.2,529.3 L87.8,530.7 L85.2,531.5 L82.5,531.6 L79.8,531.2 L77.3,530.6 L75.0,529.8 L72.7,529.0 L70.3,528.2 L68.0,527.1 L65.8,525.6 L63.8,523.8 L62.4,521.5 L61.6,518.9 L61.6,516.2 L62.1,513.7 L63.0,511.3 L64.0,509.1 L65.1,506.9 L66.2,504.8 L67.5,502.7 L69.1,500.6 L71.1,498.8 L73.5,497.5 L76.2,496.8" fill="none" stroke="#f6eef8" stroke-width="1.0"/><ellipse cx="81.2" cy="515.5" rx="6" ry="5" fill="#9a3ab2" opacity="0.45"/><path d="M93.4,481.6 L114.8,469.8 Q119.2,468.6 119.4,472.6 L119,474.6 L97.8,488.6 Z" fill="#983a0c" stroke="#7a2c06" stroke-width="0.5"/><rect x="136.5" y="479" width="40" height="63.4" fill="#f3f3f3"/><path d="M138.5,523 L175,523 L174.6,538 Q174,541.2 170,541.2 L143,541.2 Q139,541.2 138.8,538 Z" fill="#b24ac8"/><path d="M140.3,524.6 q2,3 -1,6 q-2,3 2,6 q3,2 1,4 M144.5,527.5 q2,3 -1,6 q-2,3 2,6 q3,2 1,4 M148.4,527.0 q2,3 -1,6 q-2,3 2,6 q3,2 1,4 M152.9,524.3 q2,3 -1,6 q-2,3 2,6 q3,2 1,4 M157.3,526.4 q2,3 -1,6 q-2,3 2,6 q3,2 1,4 M160.6,524.1 q2,3 -1,6 q-2,3 2,6 q3,2 1,4 M165.9,525.9 q2,3 -1,6 q-2,3 2,6 q3,2 1,4 M169.8,527.5 q2,3 -1,6 q-2,3 2,6 q3,2 1,4 M174.0,527.7 q2,3 -1,6 q-2,3 2,6 q3,2 1,4 M140.3,535.0 a1.5,1.5 0 1,1 3,0 a1,1 0 1,1 -2,0 M145.6,536.4 a1.5,1.5 0 1,1 3,0 a1,1 0 1,1 -2,0 M151.7,528.0 a1.5,1.5 0 1,1 3,0 a1,1 0 1,1 -2,0 M155.4,529.2 a1.5,1.5 0 1,1 3,0 a1,1 0 1,1 -2,0 M162.2,531.4 a1.5,1.5 0 1,1 3,0 a1,1 0 1,1 -2,0 M166.8,530.0 a1.5,1.5 0 1,1 3,0 a1,1 0 1,1 -2,0 M171.7,530.9 a1.5,1.5 0 1,1 3,0 a1,1 0 1,1 -2,0" stroke="#f4e4f8" stroke-width="0.9" fill="none"/><rect x="138.5" y="511" width="36.5" height="12" fill="#dcdcdc"/><ellipse cx="156.8" cy="511.5" rx="18.2" ry="2" fill="#e8e8e8" stroke="#9a9a9a" stroke-width="0.4"/><path d="M137.8,487 L138.6,538 Q139,541.5 143,541.5 L170,541.5 Q174.4,541.5 174.6,538 L175.6,487" fill="none" stroke="#888" stroke-width="0.55"/><ellipse cx="156.7" cy="487" rx="19" ry="2.4" fill="none" stroke="#888" stroke-width="0.55"/><path d="M142.5,480.0 c2.5,2 2.5,5 0,7.5 c-2.5,2.5 -2.5,5 0,7.5 c2.5,2.5 2.5,5 0,7.5 c-1.5,1.5 -1.5,3 0,4.5 M148,481.5 c2.5,2 2.5,5 0,7.5 c-2.5,2.5 -2.5,5 0,7.5 c2.5,2.5 2.5,5 0,7.5 c-1.5,1.5 -1.5,3 0,4.5 M154,483.0 c2.5,2 2.5,5 0,7.5 c-2.5,2.5 -2.5,5 0,7.5 c2.5,2.5 2.5,5 0,7.5 c-1.5,1.5 -1.5,3 0,4.5 M160,480.0 c2.5,2 2.5,5 0,7.5 c-2.5,2.5 -2.5,5 0,7.5 c2.5,2.5 2.5,5 0,7.5 c-1.5,1.5 -1.5,3 0,4.5 M166,481.5 c2.5,2 2.5,5 0,7.5 c-2.5,2.5 -2.5,5 0,7.5 c2.5,2.5 2.5,5 0,7.5 c-1.5,1.5 -1.5,3 0,4.5 M171.5,483.0 c2.5,2 2.5,5 0,7.5 c-2.5,2.5 -2.5,5 0,7.5 c2.5,2.5 2.5,5 0,7.5 c-1.5,1.5 -1.5,3 0,4.5" stroke="#8a8a8a" stroke-width="0.55" fill="none"/><circle cx="156" cy="498" r="0.9" fill="#555"/><circle cx="163" cy="497" r="0.9" fill="#555"/><circle cx="156" cy="504" r="0.9" fill="#555"/><circle cx="163" cy="505" r="0.9" fill="#555"/><circle cx="156" cy="513" r="0.9" fill="#555"/><circle cx="164" cy="514" r="0.9" fill="#555"/><circle cx="156" cy="521" r="0.9" fill="#555"/><circle cx="164" cy="522" r="0.9" fill="#555"/><path d="M253.6,496 L327.8,496 L328,498.2 L253.8,498.2 Z" stroke="#1a1a1a" stroke-width="0.75" fill="none" stroke-linecap="round"/><path d="M253.6,496 L253.6,487.2 L256.2,486.4 L256.2,496" stroke="#1a1a1a" stroke-width="0.75" fill="none" stroke-linecap="round"/><path d="M326,496 L326,488.2 L328.6,487.4 L328.6,496" stroke="#1a1a1a" stroke-width="0.75" fill="none" stroke-linecap="round"/><path d="M256.2,490.8 L326,490.8 M256.2,492 L326,492" stroke="#1a1a1a" stroke-width="0.75" fill="none" stroke-linecap="round"/><path d="M259.3,480.5 L259.3,494 Q262.3,497.6 265.3,494 L265.3,480.5" fill="#fff" stroke="#2a2a2a" stroke-width="0.65"/><ellipse cx="262.3" cy="480.5" rx="3" ry="1" stroke="#1a1a1a" stroke-width="0.75" fill="none" stroke-linecap="round"/><path d="M259.5,471.2 L265.1,471.2 L264.2,477 L260.40000000000003,477 Z" stroke="#1a1a1a" stroke-width="0.75" fill="none" stroke-linecap="round"/><ellipse cx="262.3" cy="471.3" rx="2.8" ry="0.6" stroke="#1a1a1a" stroke-width="0.75" fill="none" stroke-linecap="round"/><path d="M273.2,480.5 L273.2,494 Q276.2,497.6 279.2,494 L279.2,480.5" fill="#fff" stroke="#2a2a2a" stroke-width="0.65"/><ellipse cx="276.2" cy="480.5" rx="3" ry="1" stroke="#1a1a1a" stroke-width="0.75" fill="none" stroke-linecap="round"/><path d="M273.4,471.2 L279.0,471.2 L278.09999999999997,477 L274.3,477 Z" stroke="#1a1a1a" stroke-width="0.75" fill="none" stroke-linecap="round"/><ellipse cx="276.2" cy="471.3" rx="2.8" ry="0.6" stroke="#1a1a1a" stroke-width="0.75" fill="none" stroke-linecap="round"/><path d="M287.4,480.5 L287.4,494 Q290.4,497.6 293.4,494 L293.4,480.5" fill="#fff" stroke="#2a2a2a" stroke-width="0.65"/><ellipse cx="290.4" cy="480.5" rx="3" ry="1" stroke="#1a1a1a" stroke-width="0.75" fill="none" stroke-linecap="round"/><path d="M287.59999999999997,471.2 L293.2,471.2 L292.29999999999995,477 L288.5,477 Z" stroke="#1a1a1a" stroke-width="0.75" fill="none" stroke-linecap="round"/><ellipse cx="290.4" cy="471.3" rx="2.8" ry="0.6" stroke="#1a1a1a" stroke-width="0.75" fill="none" stroke-linecap="round"/><path d="M302.2,480.5 L302.2,494 Q305.2,497.6 308.2,494 L308.2,480.5" fill="#fff" stroke="#2a2a2a" stroke-width="0.65"/><ellipse cx="305.2" cy="480.5" rx="3" ry="1" stroke="#1a1a1a" stroke-width="0.75" fill="none" stroke-linecap="round"/><path d="M302.4,471.2 L308.0,471.2 L307.09999999999997,477 L303.3,477 Z" stroke="#1a1a1a" stroke-width="0.75" fill="none" stroke-linecap="round"/><ellipse cx="305.2" cy="471.3" rx="2.8" ry="0.6" stroke="#1a1a1a" stroke-width="0.75" fill="none" stroke-linecap="round"/><path d="M317,480.5 L317,494 Q320,497.6 323,494 L323,480.5" fill="#fff" stroke="#2a2a2a" stroke-width="0.65"/><ellipse cx="320" cy="480.5" rx="3" ry="1" stroke="#1a1a1a" stroke-width="0.75" fill="none" stroke-linecap="round"/><path d="M317.2,471.2 L322.8,471.2 L321.9,477 L318.1,477 Z" stroke="#1a1a1a" stroke-width="0.75" fill="none" stroke-linecap="round"/><ellipse cx="320" cy="471.3" rx="2.8" ry="0.6" stroke="#1a1a1a" stroke-width="0.75" fill="none" stroke-linecap="round"/><text x="254.6" y="502.4" font-size="4.6" font-family="Liberation Serif" font-style="italic" font-weight="bold" fill="#222" textLength="56" lengthAdjust="spacingAndGlyphs">Reagenzgläser mit Stopfen</text><line x1="334" y1="481.6" x2="366" y2="477" stroke="#555" stroke-width="0.6"/><ellipse cx="334.5" cy="481.6" rx="4.3" ry="1.3" transform="rotate(-10 334.5 481.6)" fill="#555"/><ellipse cx="366" cy="476.8" rx="4" ry="1.4" transform="rotate(-10 366 476.8)" fill="#555"/><text x="343.5" y="478.4" font-size="4" font-family="Liberation Serif" font-style="italic" font-weight="bold" fill="#222" transform="rotate(-8 343.5 478.4)">Spatel</text><path d="M265,511.5 L266,512.4 L266,528.5 Q266.2,530.2 268,530.2 L276.2,530.2 Q278.2,530.2 278.2,528.5 L278.2,512.2 L279.2,511.5 Z" stroke="#1a1a1a" stroke-width="0.75" fill="none" stroke-linecap="round"/><text x="267.2" y="522" font-size="3.4" font-family="Liberation Serif" font-style="italic" font-weight="bold" fill="#222">400ml</text><path d="M287.2,511.5 L288.2,512.4 L288.2,528.5 Q288.4,530.2 290.2,530.2 L297.4,530.2 Q299.4,530.2 299.4,528.5 L299.4,512.2 L300.4,511.5 Z" stroke="#1a1a1a" stroke-width="0.75" fill="none" stroke-linecap="round"/><text x="289.4" y="522" font-size="3.4" font-family="Liberation Serif" font-style="italic" font-weight="bold" fill="#222">400ml</text><text x="262" y="535" font-size="4.4" font-family="Liberation Serif" font-style="italic" font-weight="bold" fill="#222" textLength="19" lengthAdjust="spacingAndGlyphs">Bechergläser</text><path d="M319.6,508.2 L320.4,549.6 L316.6,552.6 L329.6,552.8 L326.8,549.6 L327.4,508.2" stroke="#1a1a1a" stroke-width="0.75" fill="none" stroke-linecap="round"/><ellipse cx="323.5" cy="508.2" rx="3.9" ry="0.9" stroke="#1a1a1a" stroke-width="0.75" fill="none" stroke-linecap="round"/><path d="M325.4,512.0 L326.8,512.0 M325.4,514.8 L326.8,514.8 M325.4,517.6 L326.8,517.6 M325.4,520.4 L326.8,520.4 M325.4,523.2 L326.8,523.2 M325.4,526.0 L326.8,526.0 M325.4,528.8 L326.8,528.8 M325.4,531.6 L326.8,531.6 M325.4,534.4 L326.8,534.4 M325.4,537.2 L326.8,537.2 M325.4,540.0 L326.8,540.0 M325.4,542.8 L326.8,542.8 M325.4,545.6 L326.8,545.6" stroke="#444" stroke-width="0.45"/><text x="330" y="549" font-size="4" font-family="Liberation Serif" font-style="italic" font-weight="bold" fill="#222">Mess-</text><text x="331" y="554.3" font-size="4" font-family="Liberation Serif" font-style="italic" font-weight="bold" fill="#222">zylinder</text><path d="M355.8,553 L376.6,533.6 L380,529 Q383.6,525.2 386.8,526.4 Q388.6,528.4 385.6,531.4 L381.2,534.6 L357,553.2 Z" fill="none" stroke="#2a2a2a" stroke-width="0.6"/><text x="366.5" y="554.5" font-size="4.6" font-family="Liberation Serif" font-style="italic" font-weight="bold" fill="#222" transform="rotate(-41 366.5 554.5)">Pipette</text><defs><linearGradient id="bbg" x1="0" y1="0" x2="0" y2="1"><stop offset="0" stop-color="#a4b8c8"/><stop offset="1" stop-color="#b8c8d6"/></linearGradient><linearGradient id="shaft" x1="0" y1="0" x2="0" y2="1"><stop offset="0" stop-color="#7a3e20"/><stop offset="0.35" stop-color="#b8784c"/><stop offset="1" stop-color="#5e3018"/></linearGradient><linearGradient id="hexg" x1="0" y1="0" x2="0" y2="1"><stop offset="0" stop-color="#94582e"/><stop offset="0.5" stop-color="#bc8454"/><stop offset="1" stop-color="#6a3618"/></linearGradient><clipPath id="bclip"><rect x="458" y="462.3" width="96" height="80.6"/></clipPath></defs><rect x="458" y="462.3" width="96" height="80.6" fill="url(#bbg)"/><filter id="bblur"><feGaussianBlur stdDeviation="0.35"/></filter><g clip-path="url(#bclip)"><g filter="url(#bblur)"><g transform="translate(471.2,486.7) rotate(-21.1)"><rect x="-4" y="3" width="30.653637107885586" height="6" rx="2" fill="#42505e" opacity="0.35"/><rect x="2" y="-3.8" width="17.653637107885586" height="7.6" fill="url(#shaft)"/><path d="M3.5,-3.8 L4.4,3.8 M4.9,-3.8 L5.8,3.8 M6.3,-3.8 L7.2,3.8 M7.7,-3.8 L8.6,3.8 M9.1,-3.8 L10.0,3.8 M10.5,-3.8 L11.4,3.8 M11.9,-3.8 L12.8,3.8 M13.3,-3.8 L14.2,3.8 M14.7,-3.8 L15.6,3.8 M16.1,-3.8 L17.0,3.8" stroke="#5e3018" stroke-width="0.45" opacity="0.6"/><path d="M-4.2,-6.8 L1.9999999999999991,-6.8 L2.999999999999999,-5.6 L2.999999999999999,5.6 L1.9999999999999991,6.8 L-4.2,6.8 L-5.2,5.6 L-5.2,-5.6 Z" fill="url(#hexg)"/><rect x="-5.2" y="-2.3" width="8.2" height="4.2" fill="#cc946a" opacity="0.45"/><line x1="-5.2" y1="-2.3" x2="2.999999999999999" y2="-2.3" stroke="#6a3a1c" stroke-width="0.4" opacity="0.6"/><path d="M19.653637107885586,-6.8 L25.853637107885586,-6.8 L26.853637107885586,-5.6 L26.853637107885586,5.6 L25.853637107885586,6.8 L19.653637107885586,6.8 L18.653637107885586,5.6 L18.653637107885586,-5.6 Z" fill="url(#hexg)"/><rect x="18.653637107885586" y="-2.3" width="8.2" height="4.2" fill="#cc946a" opacity="0.45"/><line x1="18.653637107885586" y1="-2.3" x2="26.853637107885586" y2="-2.3" stroke="#6a3a1c" stroke-width="0.4" opacity="0.6"/></g><g transform="translate(507.7,472.7) rotate(33.3)"><rect x="-4" y="3" width="33.04682931282206" height="6" rx="2" fill="#42505e" opacity="0.35"/><rect x="2" y="-3.8" width="20.046829312822062" height="7.6" fill="url(#shaft)"/><path d="M3.5,-3.8 L4.4,3.8 M4.9,-3.8 L5.8,3.8 M6.3,-3.8 L7.2,3.8 M7.7,-3.8 L8.6,3.8 M9.1,-3.8 L10.0,3.8 M10.5,-3.8 L11.4,3.8 M11.9,-3.8 L12.8,3.8 M13.3,-3.8 L14.2,3.8 M14.7,-3.8 L15.6,3.8 M16.1,-3.8 L17.0,3.8 M17.5,-3.8 L18.4,3.8 M18.9,-3.8 L19.8,3.8" stroke="#5e3018" stroke-width="0.45" opacity="0.6"/><path d="M-4.2,-6.8 L1.9999999999999991,-6.8 L2.999999999999999,-5.6 L2.999999999999999,5.6 L1.9999999999999991,6.8 L-4.2,6.8 L-5.2,5.6 L-5.2,-5.6 Z" fill="url(#hexg)"/><rect x="-5.2" y="-2.3" width="8.2" height="4.2" fill="#cc946a" opacity="0.45"/><line x1="-5.2" y1="-2.3" x2="2.999999999999999" y2="-2.3" stroke="#6a3a1c" stroke-width="0.4" opacity="0.6"/><path d="M22.046829312822062,-6.8 L28.24682931282206,-6.8 L29.24682931282206,-5.6 L29.24682931282206,5.6 L28.24682931282206,6.8 L22.046829312822062,6.8 L21.046829312822062,5.6 L21.046829312822062,-5.6 Z" fill="url(#hexg)"/><rect x="21.046829312822062" y="-2.3" width="8.2" height="4.2" fill="#cc946a" opacity="0.45"/><line x1="21.046829312822062" y1="-2.3" x2="29.24682931282206" y2="-2.3" stroke="#6a3a1c" stroke-width="0.4" opacity="0.6"/></g><g transform="translate(488.3,507.6) rotate(-52.8)"><rect x="-4" y="3" width="33.34029580756982" height="6" rx="2" fill="#42505e" opacity="0.35"/><rect x="2" y="-3.8" width="20.34029580756982" height="7.6" fill="url(#shaft)"/><path d="M3.5,-3.8 L4.4,3.8 M4.9,-3.8 L5.8,3.8 M6.3,-3.8 L7.2,3.8 M7.7,-3.8 L8.6,3.8 M9.1,-3.8 L10.0,3.8 M10.5,-3.8 L11.4,3.8 M11.9,-3.8 L12.8,3.8 M13.3,-3.8 L14.2,3.8 M14.7,-3.8 L15.6,3.8 M16.1,-3.8 L17.0,3.8 M17.5,-3.8 L18.4,3.8 M18.9,-3.8 L19.8,3.8" stroke="#5e3018" stroke-width="0.45" opacity="0.6"/><path d="M-4.2,-6.8 L1.9999999999999991,-6.8 L2.999999999999999,-5.6 L2.999999999999999,5.6 L1.9999999999999991,6.8 L-4.2,6.8 L-5.2,5.6 L-5.2,-5.6 Z" fill="url(#hexg)"/><rect x="-5.2" y="-2.3" width="8.2" height="4.2" fill="#cc946a" opacity="0.45"/><line x1="-5.2" y1="-2.3" x2="2.999999999999999" y2="-2.3" stroke="#6a3a1c" stroke-width="0.4" opacity="0.6"/><path d="M22.34029580756982,-6.8 L28.54029580756982,-6.8 L29.54029580756982,-5.6 L29.54029580756982,5.6 L28.54029580756982,6.8 L22.34029580756982,6.8 L21.34029580756982,5.6 L21.34029580756982,-5.6 Z" fill="url(#hexg)"/><rect x="21.34029580756982" y="-2.3" width="8.2" height="4.2" fill="#cc946a" opacity="0.45"/><line x1="21.34029580756982" y1="-2.3" x2="29.54029580756982" y2="-2.3" stroke="#6a3a1c" stroke-width="0.4" opacity="0.6"/></g><g transform="translate(527.8,511.4) rotate(-47.6)"><rect x="-4" y="3" width="34.19841264841892" height="6" rx="2" fill="#42505e" opacity="0.35"/><rect x="2" y="-3.8" width="21.198412648418923" height="7.6" fill="url(#shaft)"/><path d="M3.5,-3.8 L4.4,3.8 M4.9,-3.8 L5.8,3.8 M6.3,-3.8 L7.2,3.8 M7.7,-3.8 L8.6,3.8 M9.1,-3.8 L10.0,3.8 M10.5,-3.8 L11.4,3.8 M11.9,-3.8 L12.8,3.8 M13.3,-3.8 L14.2,3.8 M14.7,-3.8 L15.6,3.8 M16.1,-3.8 L17.0,3.8 M17.5,-3.8 L18.4,3.8 M18.9,-3.8 L19.8,3.8" stroke="#5e3018" stroke-width="0.45" opacity="0.6"/><path d="M-4.2,-6.8 L1.9999999999999991,-6.8 L2.999999999999999,-5.6 L2.999999999999999,5.6 L1.9999999999999991,6.8 L-4.2,6.8 L-5.2,5.6 L-5.2,-5.6 Z" fill="url(#hexg)"/><rect x="-5.2" y="-2.3" width="8.2" height="4.2" fill="#cc946a" opacity="0.45"/><line x1="-5.2" y1="-2.3" x2="2.999999999999999" y2="-2.3" stroke="#6a3a1c" stroke-width="0.4" opacity="0.6"/><path d="M23.198412648418923,-6.8 L29.398412648418923,-6.8 L30.398412648418923,-5.6 L30.398412648418923,5.6 L29.398412648418923,6.8 L23.198412648418923,6.8 L22.198412648418923,5.6 L22.198412648418923,-5.6 Z" fill="url(#hexg)"/><rect x="22.198412648418923" y="-2.3" width="8.2" height="4.2" fill="#cc946a" opacity="0.45"/><line x1="22.198412648418923" y1="-2.3" x2="30.398412648418923" y2="-2.3" stroke="#6a3a1c" stroke-width="0.4" opacity="0.6"/></g><g transform="translate(468.2,513.8) rotate(25.0)"><rect x="-4" y="3" width="34.59062328275732" height="6" rx="2" fill="#42505e" opacity="0.35"/><rect x="2" y="-3.8" width="21.590623282757317" height="7.6" fill="url(#shaft)"/><path d="M3.5,-3.8 L4.4,3.8 M4.9,-3.8 L5.8,3.8 M6.3,-3.8 L7.2,3.8 M7.7,-3.8 L8.6,3.8 M9.1,-3.8 L10.0,3.8 M10.5,-3.8 L11.4,3.8 M11.9,-3.8 L12.8,3.8 M13.3,-3.8 L14.2,3.8 M14.7,-3.8 L15.6,3.8 M16.1,-3.8 L17.0,3.8 M17.5,-3.8 L18.4,3.8 M18.9,-3.8 L19.8,3.8 M20.3,-3.8 L21.2,3.8" stroke="#5e3018" stroke-width="0.45" opacity="0.6"/><path d="M-4.2,-6.8 L1.9999999999999991,-6.8 L2.999999999999999,-5.6 L2.999999999999999,5.6 L1.9999999999999991,6.8 L-4.2,6.8 L-5.2,5.6 L-5.2,-5.6 Z" fill="url(#hexg)"/><rect x="-5.2" y="-2.3" width="8.2" height="4.2" fill="#cc946a" opacity="0.45"/><line x1="-5.2" y1="-2.3" x2="2.999999999999999" y2="-2.3" stroke="#6a3a1c" stroke-width="0.4" opacity="0.6"/><path d="M23.590623282757317,-6.8 L29.790623282757316,-6.8 L30.790623282757316,-5.6 L30.790623282757316,5.6 L29.790623282757316,6.8 L23.590623282757317,6.8 L22.590623282757317,5.6 L22.590623282757317,-5.6 Z" fill="url(#hexg)"/><rect x="22.590623282757317" y="-2.3" width="8.2" height="4.2" fill="#cc946a" opacity="0.45"/><line x1="22.590623282757317" y1="-2.3" x2="30.790623282757316" y2="-2.3" stroke="#6a3a1c" stroke-width="0.4" opacity="0.6"/></g><g transform="translate(510,529.2) rotate(-86.7)"><rect x="-4" y="3" width="35.34274093559749" height="6" rx="2" fill="#42505e" opacity="0.35"/><rect x="2" y="-3.8" width="22.342740935597487" height="7.6" fill="url(#shaft)"/><path d="M3.5,-3.8 L4.4,3.8 M4.9,-3.8 L5.8,3.8 M6.3,-3.8 L7.2,3.8 M7.7,-3.8 L8.6,3.8 M9.1,-3.8 L10.0,3.8 M10.5,-3.8 L11.4,3.8 M11.9,-3.8 L12.8,3.8 M13.3,-3.8 L14.2,3.8 M14.7,-3.8 L15.6,3.8 M16.1,-3.8 L17.0,3.8 M17.5,-3.8 L18.4,3.8 M18.9,-3.8 L19.8,3.8 M20.3,-3.8 L21.2,3.8" stroke="#5e3018" stroke-width="0.45" opacity="0.6"/><path d="M-4.2,-6.8 L1.9999999999999991,-6.8 L2.999999999999999,-5.6 L2.999999999999999,5.6 L1.9999999999999991,6.8 L-4.2,6.8 L-5.2,5.6 L-5.2,-5.6 Z" fill="url(#hexg)"/><rect x="-5.2" y="-2.3" width="8.2" height="4.2" fill="#cc946a" opacity="0.45"/><line x1="-5.2" y1="-2.3" x2="2.999999999999999" y2="-2.3" stroke="#6a3a1c" stroke-width="0.4" opacity="0.6"/><path d="M24.342740935597487,-6.8 L30.542740935597486,-6.8 L31.542740935597486,-5.6 L31.542740935597486,5.6 L30.542740935597486,6.8 L24.342740935597487,6.8 L23.342740935597487,5.6 L23.342740935597487,-5.6 Z" fill="url(#hexg)"/><rect x="23.342740935597487" y="-2.3" width="8.2" height="4.2" fill="#cc946a" opacity="0.45"/><line x1="23.342740935597487" y1="-2.3" x2="31.542740935597486" y2="-2.3" stroke="#6a3a1c" stroke-width="0.4" opacity="0.6"/></g></g></g><circle cx="646.3" cy="484" r="5.4" fill="#1a6ab6" stroke="#0a2a50" stroke-width="0.75"/><circle cx="657.1" cy="480.9" r="5.4" fill="#1a6ab6" stroke="#0a2a50" stroke-width="0.75"/><circle cx="667.9" cy="478.6" r="5.4" fill="#1a6ab6" stroke="#0a2a50" stroke-width="0.75"/><circle cx="653.5" cy="492.5" r="5.4" fill="#1a6ab6" stroke="#0a2a50" stroke-width="0.75"/><circle cx="664.8" cy="490.2" r="5.4" fill="#1a6ab6" stroke="#0a2a50" stroke-width="0.75"/><circle cx="676.1" cy="487.9" r="5.4" fill="#1a6ab6" stroke="#0a2a50" stroke-width="0.75"/><circle cx="699.7" cy="470.5" r="3.3" fill="#f4b820" stroke="#3a2c04" stroke-width="0.7"/><circle cx="706.3" cy="473.2" r="3.3" fill="#f4b820" stroke="#3a2c04" stroke-width="0.7"/><circle cx="699.2" cy="489.1" r="3.3" fill="#f4b820" stroke="#3a2c04" stroke-width="0.7"/><circle cx="705.4" cy="492.5" r="3.3" fill="#f4b820" stroke="#3a2c04" stroke-width="0.7"/><circle cx="719" cy="484" r="3.3" fill="#f4b820" stroke="#3a2c04" stroke-width="0.7"/><circle cx="715.9" cy="490.7" r="3.3" fill="#f4b820" stroke="#3a2c04" stroke-width="0.7"/><path d="M669.5,501 L673.4,510.4 M670.6,506.6 L673.4,510.4 L675.2,506" stroke="#222" stroke-width="0.7" fill="none"/><path d="M699.8,501.6 L696.6,511 M694.6,506.8 L696.6,511 L699.6,507.6" stroke="#222" stroke-width="0.7" fill="none"/><circle cx="671.8" cy="523.9" r="3.4" fill="#1a6ab6" stroke="#0a2a50" stroke-width="0.75"/><path d="M670.0,523.9 L673.5999999999999,523.9 M671.8,522.1 L671.8,525.6999999999999" stroke="#0a1a3a" stroke-width="0.6"/><circle cx="690.4" cy="523.9" r="3.4" fill="#1a6ab6" stroke="#0a2a50" stroke-width="0.75"/><path d="M688.6,523.9 L692.1999999999999,523.9 M690.4,522.1 L690.4,525.6999999999999" stroke="#0a1a3a" stroke-width="0.6"/><circle cx="681.1" cy="533.5" r="3.4" fill="#1a6ab6" stroke="#0a2a50" stroke-width="0.75"/><path d="M679.3000000000001,533.5 L682.9,533.5 M681.1,531.7 L681.1,535.3" stroke="#0a1a3a" stroke-width="0.6"/><circle cx="699.7" cy="533.5" r="3.4" fill="#1a6ab6" stroke="#0a2a50" stroke-width="0.75"/><path d="M697.9000000000001,533.5 L701.5,533.5 M699.7,531.7 L699.7,535.3" stroke="#0a1a3a" stroke-width="0.6"/><circle cx="671.8" cy="543.1" r="3.4" fill="#1a6ab6" stroke="#0a2a50" stroke-width="0.75"/><path d="M670.0,543.1 L673.5999999999999,543.1 M671.8,541.3000000000001 L671.8,544.9" stroke="#0a1a3a" stroke-width="0.6"/><circle cx="690.4" cy="543.1" r="3.4" fill="#1a6ab6" stroke="#0a2a50" stroke-width="0.75"/><path d="M688.6,543.1 L692.1999999999999,543.1 M690.4,541.3000000000001 L690.4,544.9" stroke="#0a1a3a" stroke-width="0.6"/><circle cx="681.1" cy="523.9" r="5.3" fill="#f4b820" stroke="#3a2c04" stroke-width="0.7"/><line x1="678.5" y1="523.9" x2="683.7" y2="523.9" stroke="#3a2a00" stroke-width="0.8"/><circle cx="699.7" cy="523.9" r="5.3" fill="#f4b820" stroke="#3a2c04" stroke-width="0.7"/><line x1="697.1" y1="523.9" x2="702.3000000000001" y2="523.9" stroke="#3a2a00" stroke-width="0.8"/><circle cx="671.8" cy="533.5" r="5.3" fill="#f4b820" stroke="#3a2c04" stroke-width="0.7"/><line x1="669.1999999999999" y1="533.5" x2="674.4" y2="533.5" stroke="#3a2a00" stroke-width="0.8"/><circle cx="690.4" cy="533.5" r="5.3" fill="#f4b820" stroke="#3a2c04" stroke-width="0.7"/><line x1="687.8" y1="533.5" x2="693.0" y2="533.5" stroke="#3a2a00" stroke-width="0.8"/><circle cx="681.1" cy="543.1" r="5.3" fill="#f4b820" stroke="#3a2c04" stroke-width="0.7"/><line x1="678.5" y1="543.1" x2="683.7" y2="543.1" stroke="#3a2a00" stroke-width="0.8"/><circle cx="699.7" cy="543.1" r="5.3" fill="#f4b820" stroke="#3a2c04" stroke-width="0.7"/><line x1="697.1" y1="543.1" x2="702.3000000000001" y2="543.1" stroke="#3a2a00" stroke-width="0.8"/></svg>
</body></html>
